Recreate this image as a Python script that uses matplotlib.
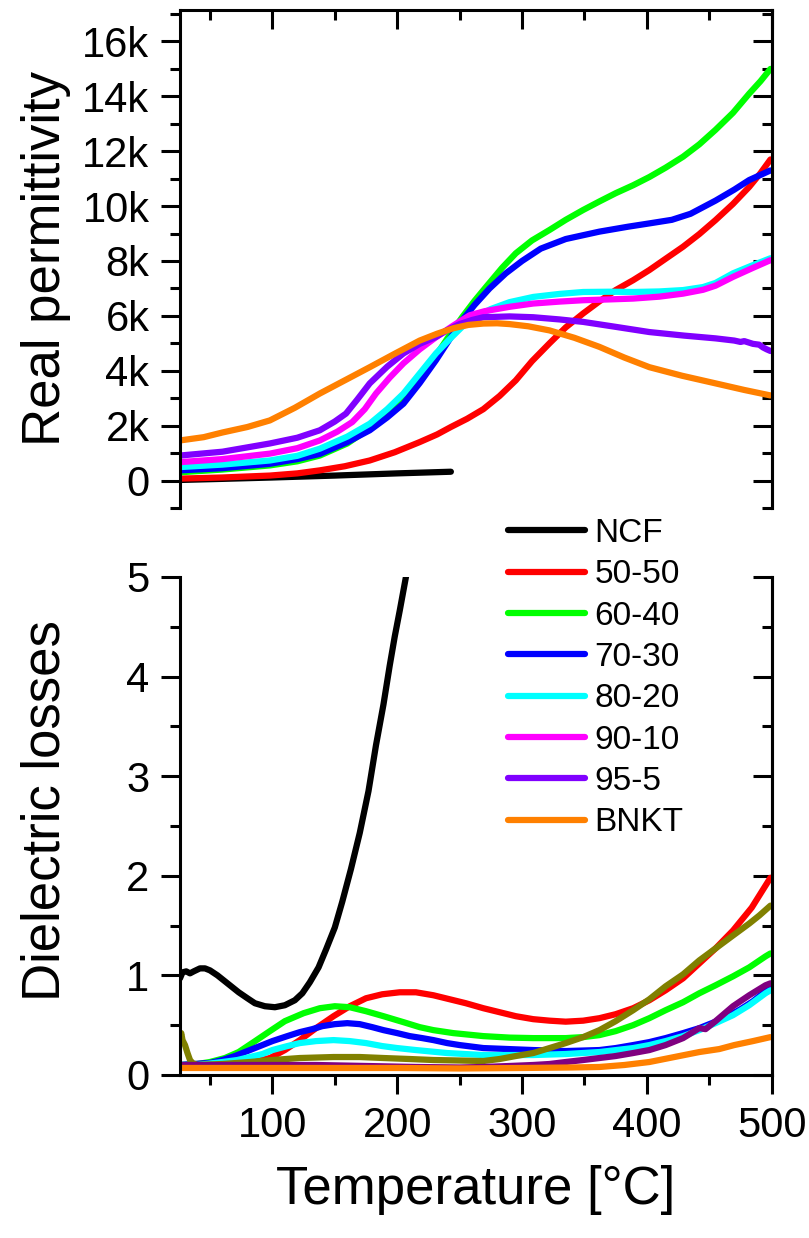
import numpy as np
import matplotlib
matplotlib.use("Agg")
import matplotlib.pyplot as plt
from matplotlib.ticker import MultipleLocator, FuncFormatter

plt.rcParams["font.family"] = ["Liberation Sans", "DejaVu Sans"]

# ── data: real permittivity (top panel) ───────────────────────────────────────
labels = ["NCF", "50-50", "60-40", "70-30", "80-20", "90-10", "95-5", "BNKT"]
colors_top = ["#000000", "#ff0000", "#00ff00", "#0000ff", "#00ffff",
              "#ff00ff", "#8000ff", "#ff8000"]

T_eps = {
    "NCF":   [26, 60, 100, 150, 200, 243],
    "50-50": [26, 60, 98, 120, 138, 158, 178, 198, 218, 232, 243, 256, 269,
              282, 295, 308, 322, 335, 349, 362, 375, 389, 402, 415, 429, 442,
              455, 469, 482, 491, 499],
    "60-40": [26, 60, 98, 120, 138, 160, 178, 192, 205, 218, 231, 242, 252,
              262, 272, 284, 295, 308, 322, 335, 349, 362, 375, 389, 402, 415,
              429, 442, 455, 469, 482, 491, 499],
    "70-30": [26, 60, 98, 120, 138, 160, 178, 192, 205, 218, 231, 242, 252,
              262, 274, 287, 300, 315, 335, 362, 385, 402, 420, 435, 455, 470,
              482, 499],
    "80-20": [26, 60, 98, 120, 138, 160, 178, 192, 205, 218, 231, 242, 252,
              262, 275, 290, 309, 330, 349, 370, 389, 410, 429, 445, 455, 469,
              485, 499],
    "90-10": [26, 60, 98, 120, 138, 152, 164, 174, 183, 194, 205, 218, 231,
              245, 258, 270, 290, 309, 330, 349, 370, 389, 410, 429, 445, 455,
              469, 485, 499],
    "95-5":  [26, 60, 98, 120, 138, 150, 159, 168, 178, 192, 205, 218, 231,
              240, 250, 260, 269, 290, 309, 330, 349, 375, 402, 430, 455, 470,
              475, 478, 485, 490, 493, 496, 499],
    "BNKT":  [26, 45, 60, 80, 98, 118, 138, 158, 178, 198, 218, 232, 245, 257,
              269, 280, 290, 305, 322, 342, 362, 382, 402, 428, 455, 478, 499],
}
eps = {
    "NCF":   [20, 60, 110, 180, 260, 320],
    "50-50": [70, 110, 180, 260, 370, 520, 730, 1030, 1400, 1680, 1950, 2250,
              2600, 3080, 3650, 4350, 5000, 5580, 6090, 6530, 6940, 7300, 7670,
              8080, 8520, 8980, 9490, 10080, 10700, 11200, 11700],
    "60-40": [300, 400, 550, 700, 910, 1350, 1900, 2400, 2950, 3700, 4550,
              5300, 5950, 6550, 7100, 7750, 8280, 8750, 9130, 9500, 9860, 10170,
              10470, 10760, 11060, 11400, 11800, 12250, 12780, 13400, 14100,
              14550, 15000],
    "70-30": [370, 450, 610, 780, 970, 1400, 1830, 2300, 2800, 3550, 4380,
              5150, 5840, 6400, 7000, 7550, 8000, 8450, 8800, 9070, 9250, 9370,
              9500, 9720, 10200, 10600, 10950, 11300],
    "80-20": [490, 580, 730, 900, 1160, 1600, 2070, 2600, 3170, 3900, 4630,
              5150, 5600, 5950, 6250, 6500, 6690, 6800, 6870, 6880, 6870, 6890,
              6940, 7050, 7200, 7550, 7850, 8100],
    "90-10": [670, 780, 980, 1180, 1460, 1780, 2130, 2600, 3170, 3750, 4270,
              4780, 5220, 5650, 6020, 6170, 6330, 6450, 6520, 6570, 6600, 6630,
              6700, 6810, 6950, 7100, 7420, 7750, 8030],
    "95-5":  [910, 1050, 1350, 1560, 1830, 2150, 2440, 2950, 3540, 4150, 4630,
              4980, 5230, 5480, 5700, 5850, 5950, 5980, 5950, 5870, 5780, 5600,
              5410, 5280, 5180, 5100, 5050, 5080, 4980, 4950, 4850, 4780, 4720],
    "BNKT":  [1460, 1580, 1750, 1950, 2190, 2650, 3170, 3650, 4130, 4620, 5100,
              5350, 5550, 5670, 5720, 5730, 5700, 5620, 5470, 5200, 4870, 4480,
              4130, 3820, 3540, 3300, 3100],
}

# ── data: dielectric losses (bottom panel) ────────────────────────────────────
colors_bot = ["#000000", "#ff0000", "#00ff00", "#0000ff", "#00ffff",
              "#808000", "#800080", "#ff8000"]

T_loss = {
    "NCF":   [26, 28, 31, 34, 37, 42, 46, 50, 56, 62, 68, 73, 80, 86, 94, 102,
              110, 118, 124, 130, 137, 143, 150, 156, 163, 170, 177, 183, 189,
              194, 198, 202, 207, 212],
    "50-50": [26, 45, 60, 80, 98, 110, 122, 135, 149, 162, 175, 188, 202, 215,
              229, 242, 255, 269, 282, 295, 309, 322, 335, 349, 362, 375, 389,
              402, 415, 429, 442, 455, 469, 484, 499],
    "60-40": [26, 40, 50, 62, 73, 85, 98, 110, 125, 138, 150, 162, 175, 189,
              205, 218, 229, 245, 269, 290, 309, 335, 349, 362, 375, 389, 402,
              415, 429, 442, 455, 469, 482, 495, 499],
    "70-30": [26, 37, 50, 60, 70, 82, 92, 100, 112, 122, 132, 140, 150, 160,
              170, 180, 189, 200, 210, 220, 229, 240, 250, 269, 289, 309, 335,
              362, 375, 389, 402, 415, 429, 442, 455, 465, 475, 485, 495, 499],
    "80-20": [26, 40, 60, 72, 82, 92, 100, 112, 122, 135, 149, 162, 175, 188,
              200, 215, 240, 269, 309, 335, 362, 389, 402, 415, 429, 442, 455,
              469, 482, 495, 499],
    "90-10": [26, 27, 28, 30, 32, 34, 36, 40, 60, 82, 100, 122, 149, 170, 189,
              210, 229, 250, 269, 282, 295, 309, 322, 335, 349, 362, 375, 389,
              402, 415, 429, 442, 455, 469, 482, 490, 499],
    "95-5":  [26, 82, 135, 175, 215, 250, 269, 290, 309, 322, 335, 349, 362,
              375, 389, 402, 415, 429, 442, 447, 455, 469, 482, 495, 499],
    "BNKT":  [26, 100, 200, 250, 300, 340, 362, 382, 402, 422, 442, 458, 470,
              485, 499],
}
loss = {
    "NCF":   [0.97, 1.03, 1.04, 1.02, 1.04, 1.07, 1.07, 1.05, 1.00, 0.94, 0.88,
              0.83, 0.77, 0.72, 0.69, 0.68, 0.70, 0.75, 0.82, 0.93, 1.08, 1.26,
              1.48, 1.74, 2.07, 2.43, 2.85, 3.31, 3.72, 4.11, 4.40, 4.66, 5.0,
              5.4],
    "50-50": [0.08, 0.09, 0.10, 0.12, 0.17, 0.25, 0.35, 0.47, 0.59, 0.69, 0.77,
              0.81, 0.83, 0.83, 0.80, 0.76, 0.72, 0.67, 0.63, 0.59, 0.56, 0.545,
              0.535, 0.545, 0.57, 0.61, 0.67, 0.75, 0.85, 0.97, 1.12, 1.27, 1.45,
              1.68, 1.98],
    "60-40": [0.10, 0.11, 0.13, 0.17, 0.23, 0.33, 0.44, 0.54, 0.62, 0.67, 0.69,
              0.68, 0.64, 0.59, 0.53, 0.48, 0.45, 0.42, 0.39, 0.375, 0.37, 0.37,
              0.38, 0.40, 0.44, 0.50, 0.57, 0.65, 0.73, 0.82, 0.90, 0.99, 1.08,
              1.19, 1.22],
    "70-30": [0.10, 0.11, 0.12, 0.15, 0.19, 0.25, 0.30, 0.34, 0.39, 0.43, 0.46,
              0.49, 0.51, 0.52, 0.51, 0.48, 0.45, 0.42, 0.39, 0.37, 0.35, 0.32,
              0.30, 0.27, 0.26, 0.25, 0.24, 0.25, 0.27, 0.30, 0.33, 0.37, 0.42,
              0.47, 0.535, 0.59, 0.66, 0.74, 0.84, 0.87],
    "80-20": [0.10, 0.10, 0.13, 0.15, 0.18, 0.21, 0.25, 0.29, 0.32, 0.34, 0.35,
              0.34, 0.32, 0.29, 0.27, 0.25, 0.22, 0.20, 0.20, 0.21, 0.23, 0.27,
              0.30, 0.34, 0.39, 0.45, 0.52, 0.60, 0.70, 0.82, 0.85],
    "90-10": [0.38, 0.42, 0.35, 0.30, 0.22, 0.15, 0.12, 0.10, 0.11, 0.13, 0.15,
              0.17, 0.18, 0.18, 0.17, 0.16, 0.15, 0.145, 0.14, 0.16, 0.19, 0.22,
              0.27, 0.32, 0.38, 0.45, 0.54, 0.65, 0.76, 0.89, 1.01, 1.15, 1.27,
              1.40, 1.52, 1.60, 1.70],
    "95-5":  [0.10, 0.10, 0.10, 0.09, 0.08, 0.075, 0.08, 0.09, 0.10, 0.11,
              0.13, 0.15, 0.17, 0.19, 0.22, 0.25, 0.30, 0.37, 0.47, 0.46, 0.54,
              0.69, 0.80, 0.90, 0.92],
    "BNKT":  [0.07, 0.07, 0.07, 0.065, 0.07, 0.075, 0.08, 0.10, 0.13, 0.18,
              0.23, 0.26, 0.30, 0.34, 0.38],
}

# ── style ─────────────────────────────────────────────────────────────────────
LW = 4.5
SPW = 2.2
TICK_FS = 30
LABEL_FS = 38


def k_fmt(v, pos):
    return "0" if v == 0 else f"{int(round(v / 1000))}k"


def style_right(ax, major, minor):
    # right-hand ticks point inward while the left ones point outward
    sec = ax.secondary_yaxis("right")
    sec.yaxis.set_major_locator(MultipleLocator(major))
    sec.yaxis.set_minor_locator(MultipleLocator(minor))
    sec.tick_params(which="both", direction="in", width=SPW, labelright=False)
    sec.tick_params(which="major", length=14)
    sec.tick_params(which="minor", length=7)
    sec.spines["right"].set_linewidth(SPW)
    return sec


fig = plt.figure(figsize=(8.09, 12.38), dpi=100)
ax1 = fig.add_axes([0.2225, 0.5897, 0.7314, 0.4023])
ax2 = fig.add_axes([0.2225, 0.1317, 0.7314, 0.4023], sharex=ax1)

handles = []
for lab, c in zip(labels, colors_top):
    h, = ax1.plot(T_eps[lab], eps[lab], color=c, lw=LW, label=lab,
                  solid_capstyle="round", solid_joinstyle="round")
    handles.append(h)
for lab, c in zip(labels, colors_bot):
    ax2.plot(T_loss[lab], loss[lab], color=c, lw=LW,
             solid_capstyle="round", solid_joinstyle="round")

ax1.set_xlim(26, 500)
ax1.set_ylim(-1000, 17150)
ax2.set_ylim(0, 5)

# top panel
ax1.spines["bottom"].set_visible(False)
for s in ["top", "left", "right"]:
    ax1.spines[s].set_linewidth(SPW)
ax1.xaxis.set_major_locator(MultipleLocator(100))
ax1.xaxis.set_minor_locator(MultipleLocator(50))
ax1.yaxis.set_major_locator(MultipleLocator(2000))
ax1.yaxis.set_minor_locator(MultipleLocator(1000))
ax1.yaxis.set_major_formatter(FuncFormatter(k_fmt))
ax1.tick_params(axis="x", which="both", direction="in", top=True, bottom=False,
                labelbottom=False, labeltop=False, width=SPW)
ax1.tick_params(axis="y", which="both", direction="out", left=True, right=False,
                width=SPW, labelsize=TICK_FS, pad=8)
ax1.tick_params(which="major", length=14)
ax1.tick_params(which="minor", length=7)
style_right(ax1, 2000, 1000)
ax1.set_ylabel("Real permittivity", fontsize=LABEL_FS)
ax1.yaxis.set_label_coords(-0.185, 0.5)

# bottom panel
ax2.spines["top"].set_visible(False)
for s in ["bottom", "left", "right"]:
    ax2.spines[s].set_linewidth(SPW)
ax2.yaxis.set_major_locator(MultipleLocator(1))
ax2.yaxis.set_minor_locator(MultipleLocator(0.5))
ax2.tick_params(axis="x", which="both", direction="out", top=False, bottom=True,
                labelbottom=True, width=SPW, labelsize=TICK_FS, pad=8)
ax2.tick_params(axis="y", which="both", direction="out", left=True, right=False,
                width=SPW, labelsize=TICK_FS, pad=8)
ax2.tick_params(which="major", length=14)
ax2.tick_params(which="minor", length=7)
style_right(ax2, 1, 0.5)
ax2.set_xlabel("Temperature [°C]", fontsize=LABEL_FS, labelpad=14)
ax2.set_ylabel("Dielectric losses", fontsize=LABEL_FS)
ax2.yaxis.set_label_coords(-0.185, 0.53)

fig.legend(handles, labels, loc="upper left", bbox_to_anchor=(0.628, 0.5815),
           frameon=False, fontsize=24, handlelength=2.3, handletextpad=0.3,
           labelspacing=0.31, borderpad=0, borderaxespad=0)

fig.savefig("out.png", dpi=100)
